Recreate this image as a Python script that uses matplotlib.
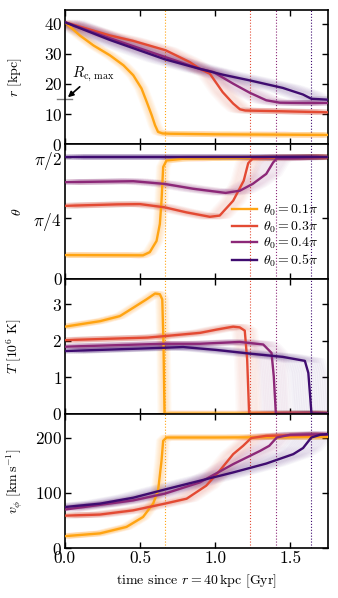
import numpy as np
import matplotlib
matplotlib.use('Agg')
import matplotlib.pyplot as plt

plt.rcParams['font.family'] = ['cmr10', 'DejaVu Serif']
plt.rcParams['mathtext.fontset'] = 'cm'
plt.rcParams['axes.formatter.use_mathtext'] = True
plt.rcParams['axes.unicode_minus'] = False

labels = [r'$\theta_0 = 0.1\pi$', r'$\theta_0 = 0.3\pi$', r'$\theta_0 = 0.4\pi$', r'$\theta_0 = 0.5\pi$']
colors = ['#ffa412', '#e34a33', '#8c2878', '#3f0c70']
t_end = [0.663, 1.229, 1.402, 1.639]
t_spread = [0.03, 0.07, 0.09, 0.12]

# radius [kpc]
r_t = [
    [0, 0.1, 0.19, 0.3, 0.39, 0.455, 0.51, 0.545, 0.578, 0.60, 0.62, 0.65, 0.7, 1.0, 1.4, 1.75],
    [0, 0.3, 0.455, 0.67, 0.83, 0.90, 0.965, 1.05, 1.12, 1.165, 1.2, 1.4, 1.75],
    [0, 0.3, 0.665, 0.9, 0.987, 1.12, 1.23, 1.34, 1.43, 1.6, 1.75],
    [0, 0.3, 0.665, 0.9, 1.05, 1.23, 1.45, 1.585, 1.64, 1.75],
]
r_val = [
    [40.5, 36.1, 32.8, 29.5, 26.2, 22.9, 18.5, 14.0, 9.6, 6.3, 4.1, 3.6, 3.5, 3.3, 3.2, 3.1],
    [40.5, 36.1, 34.3, 31.2, 27.3, 25.0, 23.4, 17.3, 13.5, 11.6, 11.2, 11.0, 10.6],
    [40.5, 35.2, 29.0, 25.0, 24.0, 20.1, 17.1, 14.6, 13.8, 13.7, 13.7],
    [40.5, 34.6, 28.2, 25.0, 23.1, 21.2, 18.7, 16.5, 15.1, 14.8],
]

# polar angle [pi]
th_t = [
    [0, 0.52, 0.565, 0.61, 0.632, 0.643, 0.654, 0.676, 0.8, 1.75],
    [0, 0.35, 0.5, 0.663, 0.81, 0.965, 1.03, 1.12, 1.19, 1.22, 1.25, 1.4, 1.75],
    [0, 0.455, 0.663, 0.854, 1.07, 1.164, 1.25, 1.34, 1.386, 1.41, 1.6, 1.75],
    [0, 0.5, 1.0, 1.5, 1.75],
]
th_val = [
    [0.098, 0.097, 0.11, 0.156, 0.226, 0.321, 0.459, 0.486, 0.494, 0.5],
    [0.30, 0.306, 0.307, 0.294, 0.273, 0.255, 0.26, 0.321, 0.403, 0.475, 0.494, 0.499, 0.5],
    [0.397, 0.401, 0.39, 0.37, 0.353, 0.362, 0.39, 0.431, 0.478, 0.494, 0.498, 0.5],
    [0.5, 0.5, 0.5, 0.5, 0.5],
]

# temperature [1e6 K]
T_t = [
    [0, 0.233, 0.366, 0.455, 0.543, 0.60, 0.632, 0.648, 0.656, 0.663, 1.75],
    [0, 0.55, 0.663, 0.9, 1.01, 1.12, 1.164, 1.197, 1.213, 1.226, 1.75],
    [0, 0.663, 0.9, 1.164, 1.32, 1.375, 1.39, 1.404, 1.75],
    [0, 0.663, 0.787, 1.01, 1.23, 1.45, 1.597, 1.62, 1.641, 1.75],
]
T_val = [
    [2.39, 2.54, 2.68, 2.91, 3.14, 3.30, 3.28, 3.14, 1.95, 0.0, 0.0],
    [2.02, 2.09, 2.13, 2.22, 2.31, 2.39, 2.37, 2.28, 1.49, 0.0, 0.0],
    [1.84, 1.92, 1.92, 1.97, 1.90, 1.67, 1.03, 0.0, 0.0],
    [1.72, 1.81, 1.83, 1.75, 1.65, 1.56, 1.45, 1.12, 0.0, 0.0],
]

# azimuthal velocity [km/s]
v_t = [
    [0, 0.233, 0.41, 0.52, 0.587, 0.62, 0.643, 0.654, 0.676, 1.0, 1.75],
    [0, 0.233, 0.455, 0.663, 0.81, 0.94, 1.03, 1.12, 1.186, 1.24, 1.34, 1.75],
    [0, 0.455, 0.663, 0.898, 1.12, 1.30, 1.36, 1.41, 1.5, 1.75],
    [0, 0.233, 0.455, 0.663, 0.898, 1.12, 1.34, 1.52, 1.585, 1.64, 1.7, 1.75],
]
v_val = [
    [22, 27, 38.7, 56.6, 80.6, 104, 158, 194, 200, 200, 201],
    [59, 61, 68.6, 80.6, 89.6, 113, 140, 170, 185, 199, 203, 205],
    [70, 86.6, 98.6, 119, 152, 176, 185, 200, 205, 206],
    [74.6, 80.6, 91.4, 106, 122, 137, 153, 170, 181, 200, 205, 206],
]

fig = plt.figure(figsize=(3.38, 5.98), dpi=100)
gs = fig.add_gridspec(4, 1, left=0.192, right=0.970, top=0.984, bottom=0.083, hspace=0)
axes = [fig.add_subplot(gs[i]) for i in range(4)]

panels = [
    (r_t, r_val, 1.0),
    (th_t, th_val, np.pi),
    (T_t, T_val, 1.0),
    (v_t, v_val, 1.0),
]

for ax, (ts, vals, scale) in zip(axes, panels):
    for i in range(4):
        t = np.array(ts[i])
        y = np.array(vals[i]) * scale
        # faint spread band
        for s in np.linspace(-t_spread[i], t_spread[i], 17):
            ax.plot(t + s, y, color=colors[i], lw=4, alpha=0.028, solid_capstyle='butt')
        ax.plot(t, y, color=colors[i], lw=1.7, label=labels[i], zorder=3)
    for i in range(4):
        ax.axvline(t_end[i], color=colors[i], ls=':', lw=0.8, zorder=1)
    ax.set_xlim(0, 1.75)
    ax.set_xticks([0, 0.5, 1.0, 1.5])
    ax.tick_params(direction='in', top=True, right=True, length=4, width=1, labelsize=12.5, pad=2)
    for sp in ax.spines.values():
        sp.set_linewidth(1.2)
    if ax is not axes[-1]:
        ax.set_xticklabels([])

axes[0].set_ylim(0, 44.7)
axes[0].set_yticks([0, 10, 20, 30, 40])
axes[0].set_ylabel(r'$r\ [\mathrm{kpc}]$', fontsize=10)
axes[0].plot([-0.05, 0.05], [15, 15], color='gray', lw=1, clip_on=False)
axes[0].annotate(r'$R_{\mathrm{c,\,max}}$', xy=(0.02, 15.6), xytext=(0.05, 20.0),
                 fontsize=10.5, ha='left', va='bottom',
                 arrowprops=dict(arrowstyle='-|>', color='k', lw=1.2, shrinkA=0, shrinkB=0,
                                 mutation_scale=8))

axes[1].set_ylim(0, 0.5525 * np.pi)
axes[1].set_yticks([0, np.pi / 4, np.pi / 2])
axes[1].set_yticklabels(['0', r'$\pi/4$', r'$\pi/2$'])
axes[1].set_ylabel(r'$\theta$', fontsize=10)
axes[1].legend(loc='lower right', bbox_to_anchor=(1.0, 0.0), frameon=False, fontsize=10,
               handlelength=1.8, handletextpad=0.4, labelspacing=0.1, borderaxespad=0.3)

axes[2].set_ylim(0, 3.7)
axes[2].set_yticks([0, 1, 2, 3])
axes[2].set_ylabel(r'$T\ [10^6\ \mathrm{K}]$', fontsize=10)

axes[3].set_ylim(0, 243)
axes[3].set_yticks([0, 100, 200])
axes[3].set_ylabel(r'$v_\phi\ [\mathrm{km\,s^{-1}}]$', fontsize=10)
axes[3].set_xticklabels(['0.0', '0.5', '1.0', '1.5'])
axes[3].set_xlabel(r'time since $r = 40\,\mathrm{kpc}$ [Gyr]', fontsize=10)

for ax in axes:
    ax.yaxis.set_label_coords(-0.155, 0.5)

fig.savefig('out.png', dpi=100)
